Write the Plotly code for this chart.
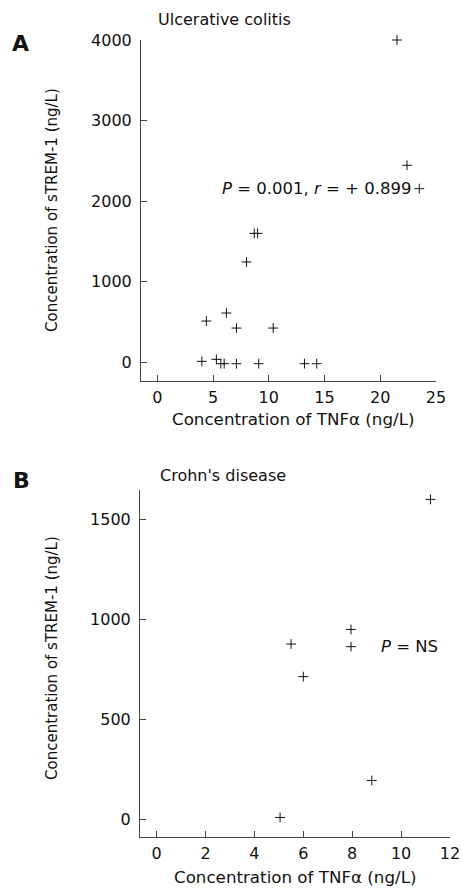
import plotly.graph_objects as go

# Panel A: Ulcerative colitis
uc_tnf = [21.5, 22.4, 23.5, 8.7, 9.0, 8.0, 4.4, 6.2, 7.1, 10.4, 4.0, 5.3, 5.7, 6.0, 7.1, 9.1, 13.2, 14.3]
uc_strem = [4000, 2445, 2155, 1600, 1600, 1245, 512, 612, 425, 425, 12, 37, -17, -17, -17, -17, -17, -17]

# Panel B: Crohn's disease
cd_tnf = [11.2, 7.95, 7.95, 5.5, 6.0, 8.8, 5.05]
cd_strem = [1598, 948, 862, 875, 712, 193, 8]

FONT = "DejaVu Sans, Verdana, sans-serif"
W, H = 462, 888
AX = "#444444"

def px(x):
    return x / W

def py(y):
    return 1 - y / H

fig = go.Figure()
mk = dict(symbol="cross-thin-open", size=7, line=dict(width=1, color="#111111"), color="#111111")
fig.add_trace(go.Scatter(x=uc_tnf, y=uc_strem, mode="markers", marker=mk, xaxis="x", yaxis="y",
                         showlegend=False, cliponaxis=False))
fig.add_trace(go.Scatter(x=cd_tnf, y=cd_strem, mode="markers", marker=mk, xaxis="x2", yaxis="y2",
                         showlegend=False, cliponaxis=False))

common = dict(showgrid=False, zeroline=False, showline=True, linecolor=AX, linewidth=1,
              ticks="inside", ticklen=6, tickcolor=AX, tickwidth=1, automargin=False,
              tickfont=dict(family=FONT, size=16, color="#111111"))

fig.update_layout(
    template="none",
    width=W, height=H, margin=dict(l=0, r=0, t=0, b=0, autoexpand=False),
    paper_bgcolor="white", plot_bgcolor="white",
    xaxis=dict(domain=[px(141), px(436)], range=[-1.46, 25.0], tickvals=[0, 5, 10, 15, 20, 25],
               anchor="y", ticklabelstandoff=2, **common),
    yaxis=dict(domain=[py(381), py(40)], range=[-232, 4000], tickvals=[0, 1000, 2000, 3000, 4000],
               anchor="x", ticklabelstandoff=5, **common),
    xaxis2=dict(domain=[px(140), px(450)], range=[-0.68, 12.0], tickvals=[0, 2, 4, 6, 8, 10, 12],
                anchor="y2", ticklabelstandoff=2, **common),
    yaxis2=dict(domain=[py(836.7), py(490)], range=[-88, 1645], tickvals=[0, 500, 1000, 1500],
                anchor="x2", ticklabelstandoff=5, **common),
)

def ann(text, x, y, size=16, bold=False, angle=0, xanchor="center"):
    t = f"<b>{text}</b>" if bold else text
    fig.add_annotation(text=t, x=px(x), y=py(y), xref="paper", yref="paper", showarrow=False,
                       xanchor=xanchor, yanchor="middle", textangle=angle,
                       font=dict(family=FONT, size=size, color="#111111"))

ann("Ulcerative colitis", 224, 20, size=16)
ann("Crohn's disease", 223, 476, size=16)
ann("A", 20, 43, size=22, bold=True)
ann("B", 21, 480, size=22, bold=True)
ann("Concentration of TNFα (ng/L)", 293, 419, size=16.7)
ann("Concentration of TNFα (ng/L)", 295, 877, size=16.7)
ann("Concentration of sTREM-1 (ng/L)", 52, 210, size=15, angle=-90)
ann("Concentration of sTREM-1 (ng/L)", 52, 658, size=15, angle=-90)
ann("<i>P</i> = 0.001, <i>r</i> = + 0.899", 413, 188, size=16.5, xanchor="right")
ann("<i>P</i> = NS", 409, 646, size=16.5)

fig.write_html("out.html", config={"displayModeBar": False},
               post_script="document.body.style.margin='0';document.body.style.overflow='hidden';")
